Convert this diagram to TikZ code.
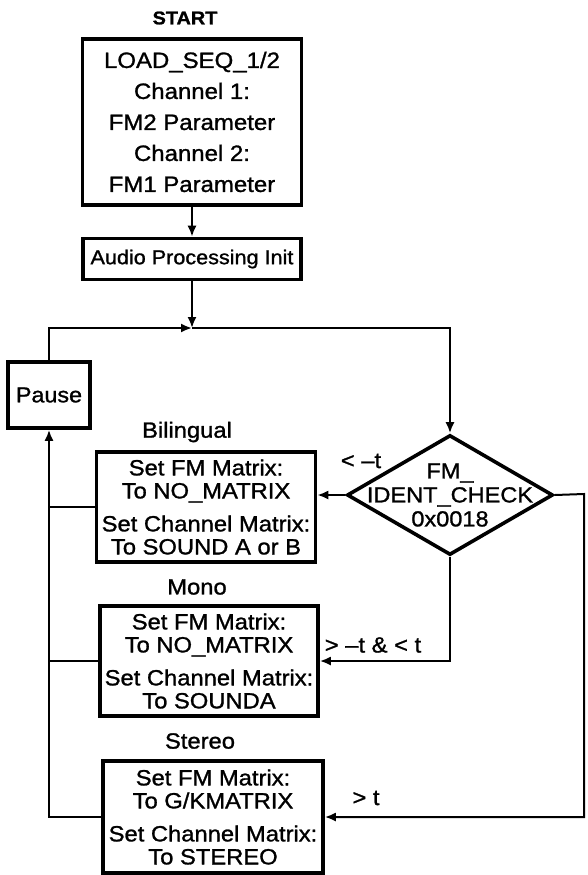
\documentclass[tikz,border=0pt]{standalone}
\usepackage{fontspec}
\setmainfont{Liberation Sans}[FakeStretch=1.08, FakeBold=1.2]
\usetikzlibrary{shapes.geometric,arrows.meta}

\begin{document}
\begin{tikzpicture}[x=0.5pt, y=-0.5pt, line width=1pt,
  >={Latex[length=5.5pt,width=4.5pt]},
  box/.style={draw, line width=1.8pt, align=center, inner sep=0pt,
    font=\fontsize{11}{11.5}\selectfont},
  decision/.style={draw, diamond, line width=1.8pt, inner sep=0pt,
    minimum width=103pt, minimum height=60pt},
  lbl/.style={font=\fontsize{11}{12}\selectfont, inner sep=1pt}]
  \useasboundingbox (0,0) rectangle (588,875);

  % start and set-up
  \node (start) [lbl, font=\fontsize{9.2}{10}\selectfont\bfseries] at (185,18) {START};
  \node (load) [box, minimum width=109.5pt, minimum height=83pt,
    font=\fontsize{11.1}{15.5}\selectfont] at (192,122)
    {LOAD\_SEQ\_1/2\\Channel 1:\\FM2 Parameter\\Channel 2:\\FM1 Parameter};
  \node (audio) [box, minimum width=109pt, minimum height=20.5pt,
    font=\fontsize{10}{11}\selectfont] at (192,259) {Audio Processing Init};
  \node (pause) [box, minimum width=41pt, minimum height=33pt,
    font=\fontsize{10.8}{11}\selectfont] at (49,395) {Pause};

  % check
  \node (check) [decision, label={[align=center, font=\fontsize{10.9}{12}\selectfont]center:FM\_\\IDENT\_CHECK\\0x0018}] at (450,495) {};

  % the three modes
  \node (bilname) [lbl] at (187,432) {Bilingual};
  \node (bil) [box, minimum width=109.5pt, minimum height=55pt] at (206,507)
    {Set FM Matrix:\\To NO\_MATRIX\\[5pt]Set Channel Matrix:\\To SOUND A or B};
  \node (mononame) [lbl] at (197,587) {Mono};
  \node (mono) [box, minimum width=109pt, minimum height=55pt] at (209,661)
    {Set FM Matrix:\\To NO\_MATRIX\\[5pt]Set Channel Matrix:\\To SOUNDA};
  \node (stername) [lbl] at (200,741) {Stereo};
  \node (stereo) [box, minimum width=110pt, minimum height=56pt] at (213,817)
    {Set FM Matrix:\\To G/KMATRIX\\[5pt]Set Channel Matrix:\\To STEREO};

  % branch labels
  \node (ltneg) [lbl] at (361,461) {< –t};
  \node (mid) [lbl] at (373,645) {> –t \& < t};
  \node (gtpos) [lbl] at (366,798) {> t};

  \coordinate (jn) at (192,328);
  \coordinate (rt) at (584,494);

  % connectors
  \draw[->] (load) -- (audio);
  \draw[->] (audio) -- (jn);
  \draw[->] (pause.north) |- (jn);
  \draw[->] (jn) -| (check.north);
  \draw[->] (check.west) -- (check.west -| bil.east);
  \draw[->] (check.south) |- (mono.east);
  \draw[->] (check.east) -- (rt) |- (stereo.east);
  \draw (bil.west) -- (bil.west -| pause.south);
  \draw (mono.west) -- (mono.west -| pause.south);
  \draw[->] (stereo.west) -| (pause.south);
\end{tikzpicture}
\end{document}
